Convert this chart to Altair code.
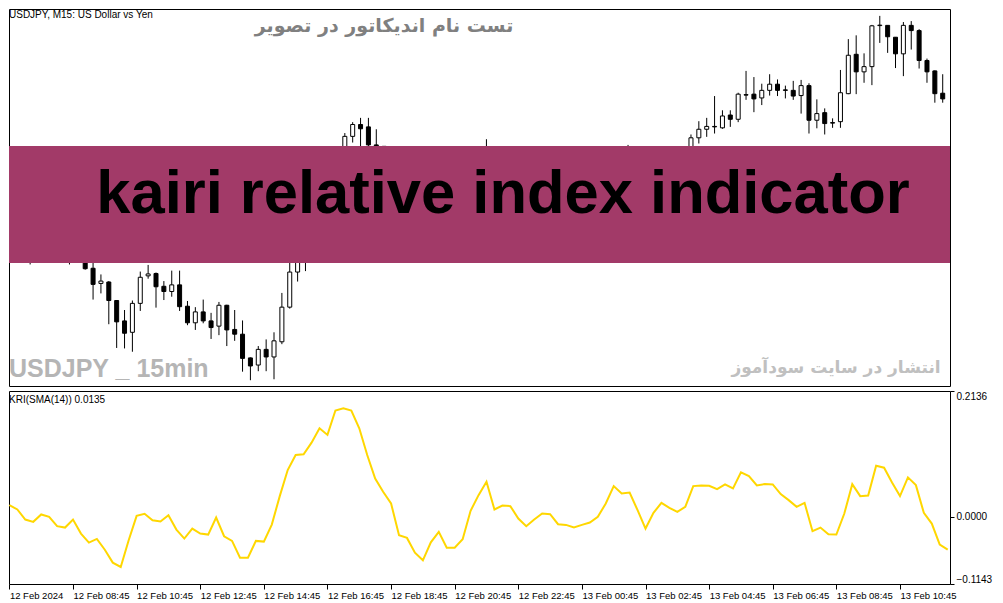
import json
import altair as alt
import pandas as pd

# ---------------- data ----------------
bar_index = list(range(119))

opens = [149.228, 149.225, 149.215, 149.195, 149.190, 149.215, 149.205, 149.185, 149.180, 149.205,
         149.163, 149.131, 149.134, 149.095, 149.052, 149.028, 149.089, 149.147, 149.152, 149.125,
         149.114, 149.128, 149.083, 149.048, 149.071, 149.052, 149.041, 149.085, 149.034, 149.024,
         148.974, 148.959, 148.992, 148.976, 149.008, 149.081, 149.155, 149.195, 149.215, 149.260,
         149.310, 149.300, 149.400, 149.441, 149.466, 149.461, 149.423, 149.420, 149.380, 149.370,
         149.320, 149.315, 149.285, 149.270, 149.310, 149.330, 149.295, 149.300, 149.320, 149.360,
         149.390, 149.410, 149.360, 149.365, 149.365, 149.340, 149.325, 149.340, 149.355, 149.355,
         149.330, 149.330, 149.325, 149.335, 149.340, 149.355, 149.385, 149.415, 149.400, 149.410,
         149.375, 149.340, 149.380, 149.400, 149.390, 149.385, 149.405, 149.438, 149.456, 149.462,
         149.459, 149.486, 149.477, 149.529, 149.530, 149.522, 149.538, 149.551, 149.539, 149.538,
         149.527, 149.548, 149.475, 149.491, 149.470, 149.472, 149.531, 149.614, 149.577, 149.588,
         149.6745, 149.675, 149.650, 149.615, 149.675, 149.664, 149.601, 149.579, 149.532]
highs = [149.232, 149.245, 149.225, 149.215, 149.225, 149.230, 149.215, 149.200, 149.215, 149.210,
         149.178, 149.150, 149.136, 149.096, 149.075, 149.095, 149.156, 149.170, 149.154, 149.136,
         149.158, 149.158, 149.094, 149.081, 149.097, 149.069, 149.092, 149.086, 149.075, 149.053,
         148.975, 148.999, 149.013, 149.028, 149.111, 149.180, 149.205, 149.235, 149.270, 149.320,
         149.330, 149.390, 149.448, 149.471, 149.480, 149.480, 149.456, 149.420, 149.400, 149.375,
         149.340, 149.320, 149.300, 149.315, 149.340, 149.335, 149.310, 149.325, 149.370, 149.400,
         149.435, 149.415, 149.375, 149.380, 149.370, 149.345, 149.345, 149.360, 149.365, 149.360,
         149.340, 149.335, 149.340, 149.345, 149.360, 149.390, 149.420, 149.418, 149.423, 149.412,
         149.380, 149.385, 149.405, 149.405, 149.395, 149.410, 149.445, 149.473, 149.480, 149.526,
         149.496, 149.496, 149.533, 149.579, 149.566, 149.552, 149.572, 149.561, 149.548, 149.558,
         149.560, 149.553, 149.519, 149.500, 149.479, 149.581, 149.646, 149.654, 149.616, 149.676,
         149.695, 149.675, 149.650, 149.682, 149.684, 149.667, 149.605, 149.580, 149.572]
lows = [149.222, 149.205, 149.171, 149.180, 149.185, 149.195, 149.180, 149.171, 149.176, 149.160,
        149.097, 149.110, 149.045, 148.995, 148.994, 148.987, 149.073, 149.141, 149.080, 149.096,
        149.103, 149.073, 149.043, 149.033, 149.047, 149.014, 149.022, 148.999, 149.010, 148.945,
        148.927, 148.946, 148.946, 148.929, 149.003, 149.078, 149.135, 149.157, 149.205, 149.250,
        149.280, 149.290, 149.395, 149.428, 149.410, 149.400, 149.390, 149.370, 149.350, 149.310,
        149.300, 149.270, 149.260, 149.265, 149.300, 149.285, 149.280, 149.290, 149.310, 149.350,
        149.380, 149.350, 149.345, 149.355, 149.330, 149.315, 149.320, 149.335, 149.345, 149.325,
        149.320, 149.315, 149.320, 149.330, 149.335, 149.350, 149.380, 149.390, 149.395, 149.370,
        149.330, 149.335, 149.370, 149.380, 149.375, 149.380, 149.400, 149.426, 149.440, 149.447,
        149.457, 149.461, 149.471, 149.518, 149.492, 149.507, 149.527, 149.526, 149.521, 149.518,
        149.489, 149.447, 149.458, 149.445, 149.459, 149.459, 149.530, 149.530, 149.554, 149.549,
        149.638, 149.617, 149.585, 149.568, 149.624, 149.584, 149.554, 149.512, 149.512]
closes = [149.225, 149.215, 149.195, 149.190, 149.215, 149.205, 149.185, 149.180, 149.205, 149.162,
          149.129, 149.136, 149.095, 149.050, 149.026, 149.089, 149.144, 149.151, 149.124, 149.114,
          149.128, 149.082, 149.048, 149.071, 149.052, 149.038, 149.085, 149.033, 149.024, 148.973,
          148.957, 148.992, 148.976, 149.010, 149.081, 149.155, 149.195, 149.215, 149.260, 149.310,
          149.300, 149.380, 149.441, 149.466, 149.457, 149.423, 149.421, 149.380, 149.370, 149.320,
          149.315, 149.285, 149.270, 149.310, 149.330, 149.295, 149.300, 149.320, 149.360, 149.390,
          149.410, 149.360, 149.365, 149.365, 149.340, 149.325, 149.340, 149.355, 149.355, 149.330,
          149.330, 149.325, 149.335, 149.340, 149.355, 149.385, 149.415, 149.400, 149.410, 149.375,
          149.340, 149.380, 149.400, 149.390, 149.385, 149.405, 149.438, 149.456, 149.462, 149.461,
          149.484, 149.477, 149.530, 149.528, 149.520, 149.538, 149.551, 149.538, 149.538, 149.526,
          149.548, 149.475, 149.489, 149.468, 149.469, 149.533, 149.612, 149.577, 149.588, 149.674,
          149.6755, 149.651, 149.615, 149.675, 149.664, 149.601, 149.577, 149.531, 149.520]

kri = [0.0197, 0.0123, -0.0048, -0.0087, 0.0038, -0.0002, -0.0161, -0.0184, -0.0048, -0.0286,
       -0.0440, -0.0377, -0.0560, -0.0780, -0.0854, -0.0400, 0.0015, 0.0050, -0.0060, -0.0082,
       0.0026, -0.0218, -0.0371, -0.0201, -0.0286, -0.0303, -0.0014, -0.0332, -0.0411, -0.0695,
       -0.0695, -0.0411, -0.0423, -0.0133, 0.0350, 0.0793, 0.1049, 0.1060, 0.1259, 0.1503,
       0.1390, 0.1804, 0.1844, 0.1804, 0.1503, 0.1049, 0.0650, 0.0424, 0.0225, -0.0315,
       -0.0360, -0.0610, -0.0741, -0.0434, -0.0258, -0.0525, -0.0525, -0.0383, 0.0100, 0.0367,
       0.0594, 0.0123, 0.0190, 0.0180, -0.0031, -0.0161, -0.0048, 0.0055, 0.0043, -0.0127,
       -0.0139, -0.0184, -0.0139, -0.0099, -0.0002, 0.0225, 0.0520, 0.0395, 0.0412, 0.0111,
       -0.0201, 0.0066, 0.0236, 0.0151, 0.0083, 0.0168, 0.0520, 0.0532, 0.0526, 0.0469,
       0.0549, 0.0480, 0.0753, 0.0691, 0.0532, 0.0554, 0.0549, 0.0384, 0.0282, 0.0168,
       0.0236, -0.0246, -0.0184, -0.0298, -0.0303, 0.0055, 0.0554, 0.0350, 0.0361, 0.0867,
       0.0833, 0.0583, 0.0350, 0.0668, 0.0537, 0.0066, -0.0116, -0.0474, -0.0560]

price_ticks = [148.98, 149.05, 149.12, 149.19, 149.26, 149.33, 149.40, 149.47, 149.54, 149.61, 149.68]
kri_ticks = [-0.1143, 0.0, 0.2136]
time_tick_bars = [0, 8, 16, 24, 32, 40, 48, 56, 64, 72, 80, 88, 96, 104, 112]
time_labels = ["12 Feb 2024", "12 Feb 08:45", "12 Feb 10:45", "12 Feb 12:45", "12 Feb 14:45",
               "12 Feb 16:45", "12 Feb 18:45", "12 Feb 20:45", "12 Feb 22:45", "13 Feb 00:45",
               "13 Feb 02:45", "13 Feb 04:45", "13 Feb 06:45", "13 Feb 08:45", "13 Feb 10:45"]

symbol_title = "USDJPY, M15:  US Dollar vs Yen"
persian_title = "تست نام اندیکاتور در تصویر"
persian_footer = "انتشار در سایت سودآموز"
watermark = "USDJPY _ 15min"
banner_text = "kairi relative index indicator"
kri_title = "KRI(SMA(14)) 0.0135"

# ---------------- chart ----------------
W = 941
H_MAIN = 377
H_IND = 193
X_DOMAIN = [-0.05, 118.29]

candles = pd.DataFrame({"i": bar_index, "open": opens, "high": highs, "low": lows, "close": closes})
ind = pd.DataFrame({"i": bar_index, "kri": kri})
one = pd.DataFrame({"k": [0]})

xs = alt.Scale(domain=X_DOMAIN, nice=False, zero=False)
ys = alt.Scale(domain=[148.9148, 149.7095], nice=False, zero=False)

wicks = alt.Chart(candles).mark_rule(color="black", strokeWidth=1, clip=True).encode(
    x=alt.X("i:Q", scale=xs, axis=None),
    y=alt.Y("low:Q", scale=ys, axis=alt.Axis(orient="right", values=price_ticks, format=".3f",
                                             tickSize=4, labelPadding=2, title=None)),
    y2="high:Q",
)

bodies = alt.Chart(candles).transform_calculate(
    lo="min(datum.open, datum.close)", hi="max(datum.open, datum.close)"
).mark_bar(size=4, stroke="black", strokeWidth=1, clip=True).encode(
    x=alt.X("i:Q", scale=xs, axis=None),
    y=alt.Y("lo:Q", scale=ys, axis=None),
    y2="hi:Q",
    fill=alt.condition("datum.close >= datum.open", alt.value("white"), alt.value("black")),
)

banner = alt.Chart(one).mark_rect(color="#A23A68").encode(
    x=alt.value(0), x2=alt.value(W), y=alt.value(137), y2=alt.value(254)
)

def txt(s, x, y, **kw):
    return alt.Chart(one).mark_text(text=s, **kw).encode(x=alt.value(x), y=alt.value(y))

main_texts = [
    txt(banner_text, 494, 204, font="Liberation Sans", fontSize=61.5, fontWeight="bold",
        color="black", align="center", baseline="alphabetic"),
    txt(symbol_title, 0, 1, font="Liberation Sans", fontSize=10, color="black",
        align="left", baseline="top"),
    txt(persian_title, 375, 17, font="DejaVu Sans", fontSize=19, fontWeight="bold",
        color="#808080", align="center", baseline="middle"),
    txt(persian_footer, 827, 359, font="DejaVu Sans", fontSize=17, fontWeight="bold",
        color="#c0c0c0", align="center", baseline="middle"),
    txt(watermark, 0, 360, font="Liberation Sans", fontSize=25,
        fontWeight="bold", color="#b5b5b5", align="left", baseline="middle"),
]

main = alt.layer(wicks, bodies, banner, *main_texts).properties(width=W, height=H_MAIN)

label_expr = json.dumps(time_labels) + "[round(datum.value / 8)]"

line = alt.Chart(ind).mark_line(color="#FFD700", strokeWidth=2, clip=True).encode(
    x=alt.X("i:Q", scale=xs, axis=alt.Axis(orient="bottom", values=time_tick_bars, labelExpr=label_expr,
                                           labelAlign="left", labelPadding=1, tickSize=5,
                                           labelFlush=False, labelOverlap=False, title=None,
                                           labelFontSize=9.5)),
    y=alt.Y("kri:Q", scale=alt.Scale(domain=[-0.1143, 0.2136], nice=False, zero=False),
            axis=alt.Axis(orient="right", values=kri_ticks, format=".4f", tickSize=4,
                          labelPadding=2, labelFlush=True, title=None)),
)

ind_text = txt(kri_title, 0, 9, font="Liberation Sans", fontSize=10, color="black",
               align="left", baseline="middle")

indicator = alt.layer(line, ind_text).properties(width=W, height=H_IND)

chart = alt.vconcat(main, indicator, spacing=3).properties(
    padding={"left": 0, "top": 0, "right": 0, "bottom": 0},
    background="white",
).configure_view(
    stroke="black", strokeWidth=1, fill="white"
).configure_axis(
    grid=False, domain=False, tickColor="black", labelColor="black",
    labelFont="Liberation Sans", labelFontSize=10
)

chart.save("out.html", embed_options={"renderer": "svg", "actions": False})
